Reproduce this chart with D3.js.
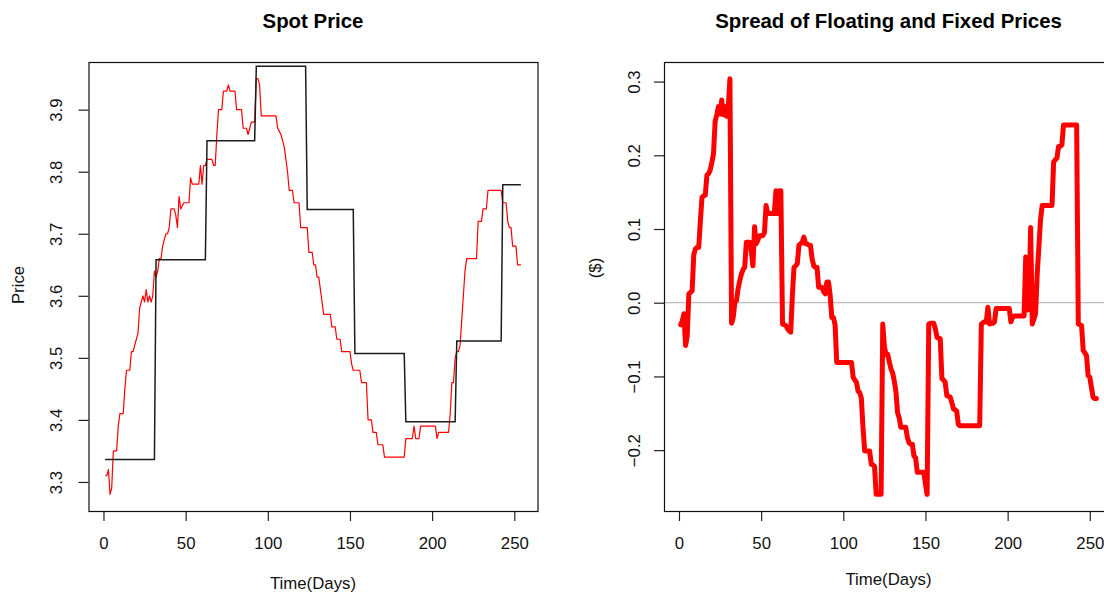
<!DOCTYPE html>
<html>
<head>
<meta charset="utf-8">
<script src="https://cdn.jsdelivr.net/npm/d3@7"></script>
<style>
  html, body { margin: 0; padding: 0; background: #fff; overflow: hidden; }
  svg { display: block; font-family: "Liberation Sans", Arial, Helvetica, sans-serif; }
</style>
</head>
<body>
<svg id="chart" width="1104" height="593"></svg>
<script>
// Daily spot price, days 1..254
const spotPrice = [
  3.31, 3.31, 3.32, 3.28, 3.29, 3.35, 3.35, 3.35, 3.39, 3.41,
  3.41, 3.41, 3.45, 3.48, 3.48, 3.48, 3.51, 3.51, 3.52, 3.53,
  3.54, 3.58, 3.59, 3.60, 3.59, 3.61, 3.59, 3.60, 3.59, 3.60,
  3.64, 3.63, 3.64, 3.66, 3.66, 3.68, 3.69, 3.70, 3.70, 3.71,
  3.74, 3.74, 3.74, 3.73, 3.71, 3.76, 3.74, 3.745, 3.75, 3.75,
  3.75, 3.75, 3.79, 3.78, 3.78, 3.78, 3.78, 3.78, 3.81, 3.78,
  3.81, 3.81, 3.82, 3.82, 3.82, 3.82, 3.81, 3.81, 3.86, 3.90,
  3.90, 3.90, 3.93, 3.93, 3.93, 3.94, 3.93, 3.93, 3.93, 3.93,
  3.90, 3.90, 3.90, 3.90, 3.87, 3.87, 3.87, 3.86, 3.87, 3.88,
  3.88, 3.88, 3.95, 3.95, 3.94, 3.89, 3.89, 3.89, 3.89, 3.89,
  3.89, 3.89, 3.89, 3.89, 3.89, 3.87, 3.865, 3.86, 3.85, 3.84,
  3.82, 3.80, 3.77, 3.77, 3.77, 3.75, 3.75, 3.75, 3.75, 3.71,
  3.71, 3.71, 3.71, 3.71, 3.67, 3.67, 3.67, 3.65, 3.65, 3.63,
  3.63, 3.61, 3.59, 3.57, 3.57, 3.57, 3.57, 3.57, 3.55, 3.55,
  3.55, 3.53, 3.53, 3.53, 3.51, 3.51, 3.51, 3.51, 3.51, 3.51,
  3.49, 3.48, 3.48, 3.48, 3.48, 3.48, 3.46, 3.46, 3.46, 3.46,
  3.40, 3.40, 3.40, 3.38, 3.38, 3.38, 3.36, 3.36, 3.36, 3.36,
  3.34, 3.34, 3.34, 3.34, 3.34, 3.34, 3.34, 3.34, 3.34, 3.34,
  3.34, 3.34, 3.34, 3.37, 3.37, 3.37, 3.37, 3.37, 3.39, 3.37,
  3.37, 3.37, 3.39, 3.39, 3.39, 3.39, 3.39, 3.39, 3.39, 3.39,
  3.39, 3.39, 3.37, 3.38, 3.38, 3.38, 3.38, 3.38, 3.38, 3.38,
  3.41, 3.46, 3.46, 3.50, 3.51, 3.51, 3.52, 3.56, 3.60, 3.64,
  3.66, 3.66, 3.66, 3.66, 3.66, 3.66, 3.66, 3.72, 3.72, 3.72,
  3.74, 3.74, 3.74, 3.77, 3.77, 3.77, 3.77, 3.77, 3.77, 3.77,
  3.77, 3.77, 3.75, 3.75, 3.75, 3.72, 3.71, 3.71, 3.68, 3.68,
  3.68, 3.65, 3.65, 3.65
];

// Fixed price schedule: first day of each period and its price
const fixedStart = [1, 32, 63, 93, 124, 153, 184, 215, 243];
const fixedLevel = [3.336, 3.658, 3.85, 3.97, 3.739, 3.507, 3.397, 3.527, 3.779];
const lastDay = 254;

// Floating minus fixed price ($), days 1..254
const spread = [
  -0.03, -0.025, -0.015, -0.058, -0.046, 0.012, 0.014, 0.016, 0.065, 0.073,
  0.075, 0.075, 0.11, 0.143, 0.145, 0.146, 0.173, 0.175, 0.18, 0.19,
  0.202, 0.246, 0.255, 0.266, 0.256, 0.275, 0.255, 0.266, 0.253, 0.264,
  0.304, -0.028, -0.02, 0.0, 0.003, 0.019, 0.03, 0.039, 0.045, 0.048,
  0.082, 0.082, 0.082, 0.07, 0.05, 0.103, 0.08, 0.085, 0.091, 0.091,
  0.091, 0.095, 0.132, 0.121, 0.121, 0.121, 0.121, 0.121, 0.152, 0.121,
  0.152, 0.152, -0.029, -0.03, -0.031, -0.035, -0.038, -0.04, 0.01, 0.048,
  0.05, 0.053, 0.078, 0.08, 0.082, 0.089, 0.08, 0.08, 0.078, 0.078,
  0.06, 0.05, 0.048, 0.048, 0.021, 0.021, 0.021, 0.015, 0.012, 0.028,
  0.028, 0.01, -0.02, -0.02, -0.03, -0.081, -0.081, -0.081, -0.081, -0.081,
  -0.081, -0.081, -0.081, -0.081, -0.081, -0.101, -0.105, -0.108, -0.12, -0.122,
  -0.13, -0.17, -0.201, -0.201, -0.201, -0.201, -0.219, -0.22, -0.222, -0.26,
  -0.26, -0.26, -0.26, -0.029, -0.06, -0.07, -0.07, -0.08, -0.09, -0.095,
  -0.106, -0.12, -0.149, -0.156, -0.169, -0.169, -0.169, -0.169, -0.183, -0.19,
  -0.192, -0.192, -0.208, -0.21, -0.23, -0.23, -0.23, -0.23, -0.23, -0.246,
  -0.26, -0.029, -0.028, -0.028, -0.028, -0.035, -0.047, -0.048, -0.049, -0.103,
  -0.105, -0.108, -0.126, -0.127, -0.128, -0.135, -0.144, -0.145, -0.147, -0.165,
  -0.167, -0.167, -0.167, -0.167, -0.167, -0.167, -0.167, -0.167, -0.167, -0.167,
  -0.167, -0.167, -0.167, -0.029, -0.027, -0.026, -0.026, -0.006, -0.029, -0.028,
  -0.028, -0.026, -0.008, -0.008, -0.008, -0.008, -0.008, -0.008, -0.008, -0.008,
  -0.008, -0.026, -0.02, -0.018, -0.018, -0.018, -0.018, -0.018, -0.018, -0.018,
  0.062, -0.01, 0.0, 0.102, -0.029, -0.022, -0.015, 0.039, 0.075, 0.112,
  0.132, 0.132, 0.132, 0.132, 0.132, 0.132, 0.132, 0.191, 0.194, 0.196,
  0.212, 0.212, 0.214, 0.241, 0.241, 0.241, 0.241, 0.241, 0.241, 0.241,
  0.241, 0.241, -0.029, -0.03, -0.031, -0.065, -0.068, -0.072, -0.099, -0.101,
  -0.115, -0.128, -0.13, -0.13
];

const dayTicks = [0, 50, 100, 150, 200, 250];
const priceTicks = [3.3, 3.4, 3.5, 3.6, 3.7, 3.8, 3.9];
const spreadTicks = [-0.2, -0.1, 0.0, 0.1, 0.2, 0.3];

const svg = d3.select("#chart");
const FONT = 16.8;

// Axis range padded 4% on each side, as in base R plots
function padded(extent) {
  const d = (extent[1] - extent[0]) * 0.04;
  return [extent[0] - d, extent[1] + d];
}

const xDomain = padded([1, lastDay]);

function drawPanel(cfg) {
  const { left, top, width, height } = cfg;
  const g = svg.append("g").attr("transform", `translate(${left},${top})`);
  const x = d3.scaleLinear().domain(xDomain).range([0, width]);
  const y = d3.scaleLinear().domain(cfg.yDomain).range([height, 0]);

  // x axis
  const xa = g.append("g")
    .attr("transform", `translate(0,${height})`)
    .call(d3.axisBottom(x).tickValues(dayTicks).tickSize(10).tickFormat(d3.format("d")));
  xa.select(".domain").remove();
  xa.selectAll("line").attr("stroke", "#222").attr("stroke-width", 1.2);
  xa.selectAll("text")
    .attr("y", 32).attr("dy", "0.35em")
    .attr("fill", "#111").style("font-size", FONT + "px")
    .style("font-family", "'Liberation Sans', Arial, sans-serif");

  // y axis with labels turned parallel to the axis
  const ya = g.append("g")
    .call(d3.axisLeft(y).tickValues(cfg.yTicks).tickSize(10).tickFormat(d3.format(".1f")));
  ya.select(".domain").remove();
  ya.selectAll("line").attr("stroke", "#222").attr("stroke-width", 1.2);
  ya.selectAll("text")
    .attr("x", null).attr("dy", "0.35em")
    .attr("text-anchor", "middle")
    .attr("transform", `translate(${-cfg.yLabelOffset},0) rotate(-90)`)
    .attr("fill", "#111").style("font-size", FONT + "px")
    .style("font-family", "'Liberation Sans', Arial, sans-serif");

  const plot = g.append("g");
  if (cfg.draw) cfg.draw(plot, x, y, width, height);

  // frame
  g.append("rect")
    .attr("x", 0.5).attr("y", 0.5)
    .attr("width", width).attr("height", height)
    .attr("fill", "none").attr("stroke", "#111").attr("stroke-width", 1.2);

  // titles
  svg.append("text")
    .attr("x", left + width / 2).attr("y", 28)
    .attr("text-anchor", "middle")
    .attr("font-weight", "bold").attr("font-size", 20.4)
    .attr("fill", "#000")
    .text(cfg.title);
  svg.append("text")
    .attr("x", left + width / 2).attr("y", cfg.xTitleY)
    .attr("dy", "0.35em").attr("text-anchor", "middle")
    .attr("font-size", FONT).attr("fill", "#111")
    .text("Time(Days)");
  svg.append("text")
    .attr("transform", `translate(${cfg.yTitleX},${cfg.yTitleY}) rotate(-90)`)
    .attr("dy", "0.35em").attr("text-anchor", "middle")
    .attr("font-size", FONT).attr("fill", "#111")
    .text(cfg.yTitle);
}

// Left: spot price with the fixed price schedule
drawPanel({
  left: 88.5, top: 62, width: 449, height: 449,
  yDomain: padded(d3.extent(spotPrice)),
  yTicks: priceTicks, yLabelOffset: 32,
  title: "Spot Price", yTitle: "Price",
  yTitleX: 18, yTitleY: 285, xTitleY: 583.5,
  draw(p, x, y) {
    const spotPts = spotPrice.map((v, i) => [i + 1, v]);
    p.append("path")
      .datum(spotPts)
      .attr("fill", "none").attr("stroke", "#ff0000").attr("stroke-width", 1.2)
      .attr("stroke-linejoin", "round")
      .attr("d", d3.line().x(d => x(d[0])).y(d => y(d[1])));

    const fixedPts = [];
    fixedStart.forEach((s, k) => {
      const end = k < fixedStart.length - 1 ? fixedStart[k + 1] - 1 : lastDay;
      fixedPts.push([s, fixedLevel[k]], [end, fixedLevel[k]]);
    });
    p.append("path")
      .datum(fixedPts)
      .attr("fill", "none").attr("stroke", "#1c1c1c").attr("stroke-width", 1.5)
      .attr("d", d3.line().x(d => x(d[0])).y(d => y(d[1])));
  }
});

// Right: spread of floating and fixed prices
drawPanel({
  left: 664, top: 62, width: 449, height: 449,
  yDomain: padded(d3.extent(spread)),
  yTicks: spreadTicks, yLabelOffset: 29.5,
  title: "Spread of Floating and Fixed Prices", yTitle: "($)",
  yTitleX: 595, yTitleY: 268, xTitleY: 579,
  draw(p, x, y, w) {
    p.append("line")
      .attr("x1", 0).attr("x2", w)
      .attr("y1", y(0)).attr("y2", y(0))
      .attr("stroke", "#bdbdbd").attr("stroke-width", 1.3);
    p.append("path")
      .datum(spread.map((v, i) => [i + 1, v]))
      .attr("fill", "none").attr("stroke", "#ff0000").attr("stroke-width", 5)
      .attr("stroke-linejoin", "round").attr("stroke-linecap", "round")
      .attr("d", d3.line().x(d => x(d[0])).y(d => y(d[1])));
  }
});
</script>
</body>
</html>
